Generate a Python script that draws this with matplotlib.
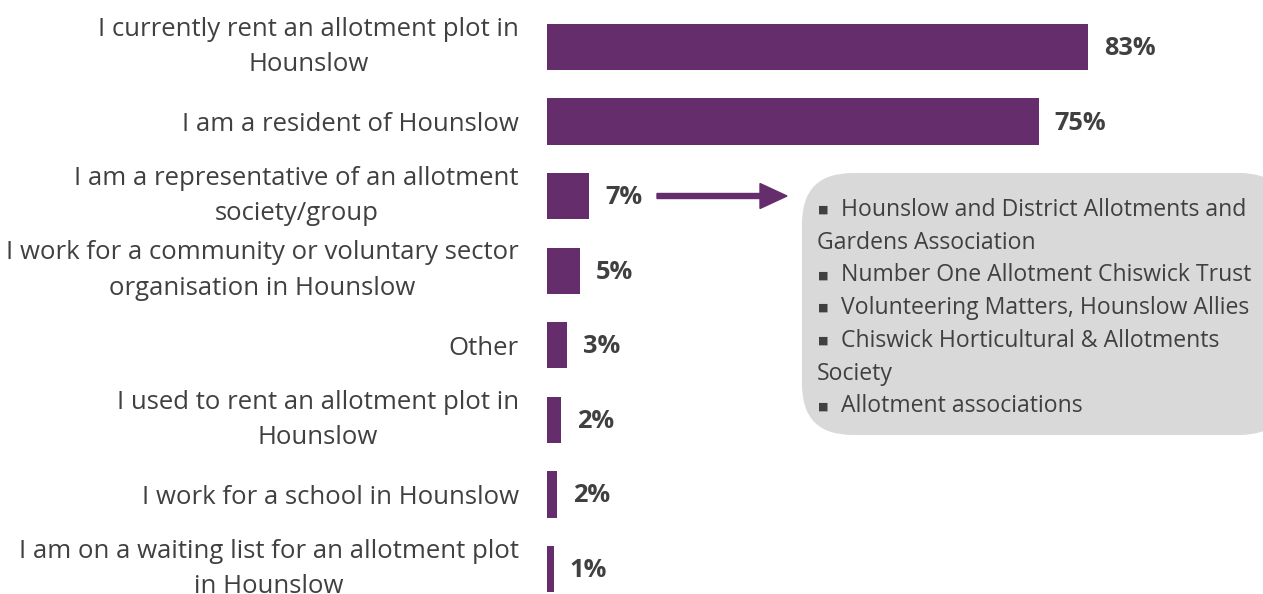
import matplotlib
matplotlib.use("Agg")
import matplotlib.pyplot as plt
from matplotlib.patches import FancyBboxPatch, FancyArrow

categories = [
    "I currently rent an allotment plot in\nHounslow",
    "I am a resident of Hounslow",
    "I am a representative of an allotment\nsociety/group",
    "I work for a community or voluntary sector\norganisation in Hounslow",
    "Other",
    "I used to rent an allotment plot in\nHounslow",
    "I work for a school in Hounslow",
    "I am on a waiting list for an allotment plot\nin Hounslow",
]
values = [83.0, 75.4, 6.5, 5.0, 3.1, 2.1, 1.55, 1.0]
value_labels = ["83%", "75%", "7%", "5%", "3%", "2%", "2%", "1%"]
box_lines = [
    (True, "Hounslow and District Allotments and"),
    (False, "Gardens Association"),
    (True, "Number One Allotment Chiswick Trust"),
    (True, "Volunteering Matters, Hounslow Allies"),
    (True, "Chiswick Horticultural & Allotments"),
    (False, "Society"),
    (True, "Allotment associations"),
]

W, H = 1263, 594
PURPLE = "#652D6C"
TXT = "#404040"
FONT = ["Open Sans", "DejaVu Sans"]
plt.rcParams["font.family"] = FONT

fig = plt.figure(figsize=(W / 100, H / 100), dpi=100)
ax = fig.add_axes([547 / W, 0, 1 - 547 / W, 1])
ppu = 6.52
ax.set_xlim(0, (W - 547) / ppu)
spacing = 74.57
ax.set_ylim((H - 47) / spacing, -47 / spacing)

ypos = list(range(len(categories)))
ax.barh(ypos, values, height=0.62, color=PURPLE)
for y, v, lab in zip(ypos, values, value_labels):
    ax.text(v + 16 / ppu, y + 0.02, lab, va="center", ha="left", fontsize=18.3,
            fontweight="bold", color=TXT)

ax.set_yticks(ypos)
ax.set_yticklabels(categories, fontsize=18.5, color=TXT, ha="right",
                   multialignment="center", linespacing=1.55)
for t in ax.get_yticklabels():
    if "\n" in t.get_text():
        t.set_va("center")
ax.tick_params(axis="y", length=0, pad=28 * 0.72)
ax.set_xticks([])
for s in ax.spines.values():
    s.set_visible(False)

def fx(px):
    return px / W
def fy(py):
    return 1 - py / H

arr = FancyArrow(fx(657), fy(196), fx(787) - fx(657), 0, width=5 / H,
                 head_width=25 / H, head_length=27 / W,
                 length_includes_head=True, color=PURPLE,
                 transform=fig.transFigure)
fig.add_artist(arr)

box = FancyBboxPatch((fx(802), fy(435)), fx(1290) - fx(802), fy(173) - fy(435),
                     boxstyle="round,pad=0,rounding_size=0.04",
                     transform=fig.transFigure, facecolor="#D9D9D9",
                     edgecolor="none", mutation_aspect=W / H)
fig.add_artist(box)

y0 = 210
for i, (bullet, line) in enumerate(box_lines):
    yy = fy(y0 + i * 32.7)
    if bullet:
        fig.text(fx(818), yy, "\u25a0", fontsize=8, color=TXT,
                 va="center", ha="left", family=["DejaVu Sans"])
        fig.text(fx(841), yy, line, fontsize=16.6, color=TXT,
                 va="center", ha="left")
    else:
        fig.text(fx(817), yy, line, fontsize=16.6, color=TXT,
                 va="center", ha="left")

fig.savefig("out.png", dpi=100)
